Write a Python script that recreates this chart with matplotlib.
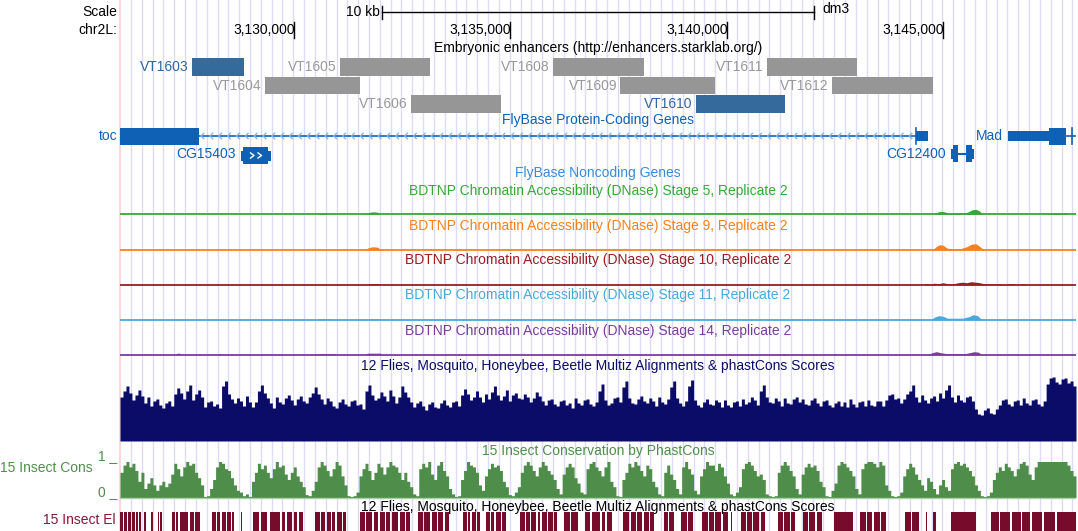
import numpy as np
import matplotlib.pyplot as plt
from matplotlib.collections import LineCollection

plt.rcParams['font.family'] = ['Liberation Sans', 'DejaVu Sans']

# dm3 window shown: chr2L:3,125,980-3,148,075
win_start = 3125980
win_end = 3148075
ruler_ticks = [3130000, 3135000, 3140000, 3145000]
ruler_labels = ['3,130,000', '3,135,000', '3,140,000', '3,145,000']
scale_bp = 10000

# Embryonic enhancers (Stark lab VT tiles)
enh_names = ['VT1603', 'VT1604', 'VT1605', 'VT1606', 'VT1608',
             'VT1609', 'VT1610', 'VT1611', 'VT1612']
enh_start = [3127640, 3129320, 3131065, 3132705, 3135987,
             3137535, 3139282, 3140923, 3142434]
enh_end = [3128840, 3131525, 3133145, 3134785, 3138097,
           3139730, 3141348, 3143007, 3144759]
enh_row = [0, 1, 0, 2, 0, 1, 2, 0, 1]
enh_active = [1, 0, 0, 0, 0, 0, 1, 0, 0]

# FlyBase protein-coding genes: blocks (start, end, kind)
toc_blocks = [(3125980, 3127799, 'cds'), (3144376, 3144653, 'utr')]
toc_intron = (3127799, 3144376)
cg15403_blocks = [(3128776, 3128834, 'utr'), (3128834, 3129412, 'cds'),
                  (3129412, 3129477, 'utr')]
cg12400_blocks = [(3145177, 3145230, 'utr'), (3145230, 3145348, 'cds'),
                  (3145531, 3145670, 'cds'), (3145670, 3145723, 'utr')]
cg12400_intron = (3145348, 3145531)
mad_blocks = [(3146495, 3147442, 'utr'), (3147442, 3147842, 'cds')]
mad_intron = (3147842, 3148075)
mad_tick = 3147988

# BDTNP DNase signal (position in kb, signal)
dnase_titles = ['BDTNP Chromatin Accessibility (DNase) Stage 5, Replicate 2',
                'BDTNP Chromatin Accessibility (DNase) Stage 9, Replicate 2',
                'BDTNP Chromatin Accessibility (DNase) Stage 10, Replicate 2',
                'BDTNP Chromatin Accessibility (DNase) Stage 11, Replicate 2',
                'BDTNP Chromatin Accessibility (DNase) Stage 14, Replicate 2']
dnase_colors = ['#37a837', '#f5821f', '#9c1c22', '#4aa9d9', '#7a3b9e']
st5_pos = [3125.98, 3130.54, 3130.60, 3130.72, 3130.78, 3131.66, 3131.74, 3131.84,
           3131.94, 3132.00, 3144.78, 3144.86, 3144.94, 3145.04, 3145.12, 3145.40,
           3145.56, 3145.68, 3145.76, 3145.84, 3145.92, 3147.40, 3147.45, 3147.85,
           3147.88, 3148.075]
st5_val = [0, 0, 1, 1, 0, 0, 2, 2.5, 2, 0, 0, 2, 3, 2.5, 1, 1,
           2, 4.5, 5, 3.5, 0, 0, 1, 1, 0, 0]
st9_pos = [3125.98, 3131.65, 3131.72, 3131.82, 3131.94, 3132.00, 3144.76, 3144.84,
           3144.92, 3145.00, 3145.10, 3145.20, 3145.40, 3145.55, 3145.66, 3145.76,
           3145.86, 3145.94, 3148.075]
st9_val = [0, 0, 2, 3, 2.5, 0, 0, 3, 5, 4.5, 1.5, 1, 1, 3, 5.5, 6, 3, 0, 0]
st10_pos = [3125.98, 3131.70, 3131.75, 3131.95, 3132.00, 3144.55, 3144.60, 3144.70,
            3144.80, 3144.90, 3145.00, 3145.10, 3145.20, 3145.35, 3145.45, 3145.55,
            3145.65, 3145.75, 3145.85, 3145.95, 3146.10, 3146.30, 3146.40, 3146.60,
            3146.70, 3146.85, 3146.90, 3148.075]
st10_val = [0, 0, 1, 1, 0, 0, 1, 0.5, 1.5, 1, 2, 1, 0.5, 2, 2.5, 2,
            3, 2.5, 2, 1, 0.5, 1, 0, 1, 0, 1, 0, 0]
st11_pos = [3125.98, 3130.52, 3130.56, 3130.86, 3130.90, 3131.70, 3131.75, 3131.95,
            3132.00, 3144.30, 3144.35, 3144.40, 3144.72, 3144.80, 3144.90, 3145.00,
            3145.10, 3145.45, 3145.60, 3145.70, 3145.80, 3145.90, 3148.075]
st11_val = [0, 0, 1, 1, 0, 0, 1, 1, 0, 0, 1, 0, 0, 2.5, 4, 3.5,
            1.5, 1.5, 3, 5, 4, 0, 0]
st14_pos = [3125.98, 3127.28, 3127.31, 3127.36, 3127.39, 3128.26, 3128.29, 3128.32,
            3130.53, 3130.58, 3130.94, 3130.99, 3131.64, 3131.70, 3132.00, 3132.06,
            3141.28, 3141.31, 3141.36, 3141.39, 3142.47, 3142.50, 3142.53, 3144.65,
            3144.75, 3144.85, 3144.95, 3145.09, 3145.50, 3145.62, 3145.72, 3145.82,
            3145.90, 3148.075]
st14_val = [0, 0, 1.5, 1.5, 0, 0, 1.5, 0, 0, 1, 1, 0, 0, 1.5, 1.5, 0,
            0, 1, 1, 0, 0, 1.5, 0, 0, 2, 3, 2, 1, 1, 2, 3, 2.5,
            0, 0]
dnase_pos = [st5_pos, st9_pos, st10_pos, st11_pos, st14_pos]
dnase_val = [st5_val, st9_val, st10_val, st11_val, st14_val]

# 12 Flies multiz summary (320 equal bins across the window)
multiz = [44, 50, 55, 48, 41, 46, 51, 45, 38, 44, 35, 40, 42, 36, 33, 38, 40, 35, 47, 53,
          48, 42, 50, 56, 41, 47, 51, 44, 34, 39, 40, 35, 37, 33, 55, 60, 47, 42, 38, 43,
          40, 35, 45, 39, 34, 39, 50, 56, 48, 43, 38, 33, 44, 39, 37, 43, 46, 41, 36, 42,
          45, 40, 38, 44, 48, 54, 47, 42, 37, 43, 40, 35, 33, 39, 42, 37, 35, 40, 41, 36,
          37, 32, 50, 56, 46, 41, 43, 49, 45, 40, 51, 45, 38, 44, 55, 49, 44, 39, 34, 38,
          40, 35, 31, 37, 39, 34, 33, 38, 41, 36, 34, 39, 40, 35, 46, 52, 47, 41, 44, 50,
          44, 39, 47, 42, 49, 55, 46, 41, 45, 51, 40, 46, 48, 43, 42, 47, 44, 39, 43, 49,
          45, 40, 36, 41, 42, 37, 35, 40, 41, 36, 38, 33, 43, 38, 36, 41, 42, 37, 35, 39,
          50, 57, 41, 36, 38, 43, 44, 39, 54, 60, 43, 38, 37, 42, 45, 40, 38, 43, 40, 35,
          44, 39, 37, 42, 54, 60, 43, 38, 35, 40, 55, 61, 41, 36, 34, 39, 42, 37, 36, 41,
          39, 34, 41, 36, 34, 39, 40, 35, 42, 37, 39, 44, 41, 36, 50, 56, 44, 39, 38, 43,
          40, 35, 43, 38, 37, 42, 44, 39, 42, 37, 36, 41, 43, 38, 35, 40, 41, 36, 34, 38,
          40, 35, 39, 34, 42, 37, 34, 39, 40, 35, 41, 36, 35, 40, 40, 35, 41, 46, 47, 42,
          43, 38, 42, 47, 50, 56, 44, 39, 46, 41, 38, 43, 45, 40, 48, 43, 51, 56, 44, 39,
          46, 41, 39, 44, 45, 40, 32, 27, 26, 31, 33, 28, 27, 32, 36, 41, 42, 37, 35, 40,
          41, 36, 43, 38, 36, 41, 42, 37, 35, 40, 57, 63, 64, 59, 57, 62, 63, 58, 60, 55]

# 15 insect phastCons (same bins, 0-1)
phastcons = [.70, .90, 1.0, .85, .95, .75, .45, .70, .25, .40, .55, .35, .20, .35, .45, .30, .40, .65, .95, .80,
             .60, .85, 1.0, .90, .95, .70, .55, .35, .03, .05, .25, .50, .85, 1.0, .95, .80, .75, .55, .35, .20,
             .15, .05, .10, .03, .45, .70, .95, .80, .90, .70, .55, .80, 1.0, .85, .90, .65, .50, .70, .85, .60,
             .45, .30, .08, .05, .20, .45, .85, 1.0, .90, .75, .60, .80, 1.0, .90, .60, .35, .05, .03, .05, .15,
             .60, .80, .95, .75, .50, .70, .95, .85, .65, .85, 1.0, .90, .85, .70, .50, .70, .45, .30, .10, .05,
             .80, .95, .85, 1.0, .65, .50, .90, 1.0, .75, .60, .25, .10, .03, .05, .50, .75, 1.0, .90, .85, .70,
             .35, .20, .60, .80, .95, .85, .90, .75, .45, .30, .08, .05, .15, .30, .70, .90, 1.0, .90, .75, .60,
             .85, 1.0, .90, .75, .65, .50, .25, .10, .65, .85, .95, .85, .55, .40, .15, .10, .80, .95, 1.0, .85,
             .75, .60, .85, 1.0, .45, .30, .05, .03, .50, .70, .95, .85, 1.0, .90, .75, .60, .90, .80, .45, .30,
             .10, .05, .70, .90, .65, .50, .25, .10, .85, 1.0, .80, .65, .20, .10, .60, .80, 1.0, .90, .90, .75,
             .95, .85, .60, .40, .10, .05, .15, .30, .80, .95, 1.0, .90, .75, .60, .65, .50, .10, .05, .03, .05,
             .70, .90, 1.0, .90, .75, .60, .25, .10, .65, .85, .95, .85, .90, .75, .45, .30, .05, .03, .20, .40,
             .90, 1.0, .95, .85, .75, .60, .25, .10, .80, .95, 1.0, 1.0, .95, .85, 1.0, .90, .35, .20, .05, .03,
             .05, .15, .60, .80, .95, .85, .65, .50, .35, .20, .55, .45, .25, .10, .35, .50, .30, .20, .80, .95,
             1.0, .90, .95, .85, .75, .60, .35, .20, .05, .03, .05, .15, .50, .70, .85, .75, .95, .85, .75, .60,
             .80, .95, 1.0, .90, .65, .50, .85, 1.0, 1.0, 1.0, 1.0, 1.0, 1.0, 1.0, 1.0, 1.0, 1.0, .90, .75, .60]

# 15 insect conserved elements (kb)
el_start = [3125.980, 3126.070, 3126.170, 3126.260, 3126.360, 3126.430, 3126.535, 3126.708,
            3126.858, 3126.915, 3127.182, 3127.280, 3127.360, 3127.470, 3127.600, 3127.720,
            3128.106, 3128.230, 3128.330, 3128.460, 3128.560, 3128.776, 3129.054, 3129.230,
            3129.447, 3129.550, 3129.720, 3129.830, 3129.990, 3130.110, 3130.486, 3130.630,
            3130.760, 3130.880, 3131.000, 3131.130, 3131.526, 3131.660, 3131.840, 3131.980,
            3132.130, 3132.260, 3132.440, 3132.590, 3132.867, 3133.010, 3133.190, 3133.330,
            3133.480, 3133.907, 3134.030, 3134.110, 3134.230, 3134.438, 3134.560, 3134.660,
            3134.810, 3135.224, 3135.360, 3135.490, 3135.630, 3135.730, 3135.880, 3136.010,
            3136.241, 3136.410, 3136.726, 3136.880, 3137.110, 3137.230, 3137.604, 3137.780,
            3137.940, 3138.080, 3138.230, 3138.552, 3138.670, 3138.945, 3139.110, 3139.430,
            3139.590, 3139.740, 3139.910, 3140.100, 3140.331, 3140.480, 3140.620, 3140.790,
            3141.186, 3141.330, 3141.490, 3141.764, 3141.910, 3142.080, 3142.481, 3143.081,
            3143.250, 3143.400, 3143.570, 3144.121, 3144.290, 3144.607, 3144.769, 3145.185,
            3146.109, 3146.330, 3146.590, 3146.830, 3147.050, 3147.330, 3147.630]
el_end = [3126.050, 3126.150, 3126.230, 3126.330, 3126.400, 3126.465, 3126.592, 3126.743,
          3126.890, 3126.951, 3127.260, 3127.320, 3127.450, 3127.550, 3127.700, 3127.829,
          3128.200, 3128.290, 3128.430, 3128.540, 3128.615, 3128.799, 3129.200, 3129.377,
          3129.530, 3129.680, 3129.800, 3129.950, 3130.080, 3130.209, 3130.600, 3130.720,
          3130.850, 3130.950, 3131.100, 3131.203, 3131.640, 3131.800, 3131.950, 3132.100,
          3132.220, 3132.400, 3132.560, 3132.682, 3132.980, 3133.144, 3133.300, 3133.450,
          3133.583, 3134.000, 3134.070, 3134.200, 3134.300, 3134.530, 3134.620, 3134.780,
          3134.900, 3135.330, 3135.450, 3135.600, 3135.690, 3135.850, 3135.980, 3136.079,
          3136.380, 3136.564, 3136.850, 3137.070, 3137.200, 3137.350, 3137.750, 3137.900,
          3138.050, 3138.200, 3138.321, 3138.640, 3138.785, 3139.080, 3139.223, 3139.560,
          3139.700, 3139.880, 3140.031, 3140.123, 3140.450, 3140.585, 3140.760, 3140.886,
          3141.300, 3141.460, 3141.579, 3141.880, 3142.050, 3142.203, 3142.920, 3143.220,
          3143.360, 3143.540, 3143.682, 3144.260, 3144.445, 3144.630, 3144.838, 3145.763,
          3146.300, 3146.550, 3146.800, 3147.010, 3147.300, 3147.600, 3148.075]

fig = plt.figure(figsize=(10.78, 5.31), dpi=100)
lab = fig.add_axes([0, 0, 1, 1])
lab.set_xlim(0, 1078)
lab.set_ylim(531, 0)
lab.axis('off')
ax = fig.add_axes([120 / 1078, 0, 956 / 1078, 1])
ax.set_xlim(win_start, win_end)
ax.set_ylim(531, 0)
ax.axis('off')
ax.patch.set_visible(False)

bp_px = (win_end - win_start) / 956.0
FS = 10

# guidelines (behind everything, in the pixel layer)
for g in np.arange(131, 1077, 10.82):
    lab.axvline(g, color='#dcdcfa', lw=1, zorder=0)
lab.axvline(119.5, color='#fbd0d0', lw=1.2, zorder=0)

# ruler
lab.text(117, 12, 'Scale', ha='right', va='center', fontsize=FS)
lab.text(117, 30, 'chr2L:', ha='right', va='center', fontsize=FS)
mid = (win_start + win_end) / 2
s0, s1 = mid - scale_bp / 2, mid + scale_bp / 2
ax.plot([s0, s1], [12, 12], color='black', lw=1)
ax.plot([s0, s0], [6, 19], color='black', lw=1)
ax.plot([s1, s1], [6, 19], color='black', lw=1)
ax.annotate('10 kb', xy=(s0, 12), xytext=(-2, 0), textcoords='offset pixels',
            ha='right', va='center', fontsize=FS)
ax.annotate('dm3', xy=(s1, 9), xytext=(8, 0), textcoords='offset pixels',
            ha='left', va='center', fontsize=FS)
for t, l in zip(ruler_ticks, ruler_labels):
    ax.plot([t, t], [22, 38], color='black', lw=1)
    ax.annotate(l, xy=(t, 30), xytext=(1, 0), textcoords='offset pixels',
                ha='right', va='center', fontsize=FS)


def title(y, s, color):
    lab.text(598, y, s, ha='center', va='center', fontsize=FS, color=color)


# enhancers
title(48, 'Embryonic enhancers (http://enhancers.starklab.org/)', 'black')
row_top = [58, 76.5, 95]
for n, s, e, r, a in zip(enh_names, enh_start, enh_end, enh_row, enh_active):
    box_c = '#346a9c' if a else '#969696'
    txt_c = '#2f65a1' if a else '#999999'
    ax.broken_barh([(s, e - s)], (row_top[r], 17.5), color=box_c, lw=0)
    ax.annotate(n, xy=(s, row_top[r] + 9), xytext=(-3, 0), textcoords='offset pixels',
                ha='right', va='center', fontsize=FS, color=txt_c)

# genes
gene_c = '#0f61b5'
title(120, 'FlyBase Protein-Coding Genes', gene_c)
heights = {'cds': 17, 'utr': 10}


def draw_blocks(blocks, yc):
    for s, e, k in blocks:
        h = heights[k]
        ax.broken_barh([(s, e - s)], (yc - h / 2, h), color=gene_c, lw=0)


def chevrons(x0, x1, yc, color, direction=-1, step=8.85, hw=1.6, hh=3.2):
    segs = []
    for x in np.arange(x0 + 4 * bp_px, x1 - 2 * bp_px, step * bp_px):
        tip = x + direction * hw * bp_px
        back = x - direction * hw * bp_px
        segs.append([(back, yc - hh), (tip, yc), (back, yc + hh)])
    ax.add_collection(LineCollection(segs, colors=color, lw=1))


draw_blocks(toc_blocks, 136)
ax.plot(toc_intron, [136, 136], color=gene_c, lw=1.2)
chevrons(toc_intron[0], toc_intron[1], 136, '#8ab8e6', direction=-1)
ax.plot([toc_intron[1], toc_intron[1]], [128, 144], color=gene_c, lw=1.2)
ax.annotate('toc', xy=(toc_blocks[0][0], 136), xytext=(-3, 0), textcoords='offset pixels',
            ha='right', va='center', fontsize=FS, color=gene_c)

draw_blocks(cg15403_blocks, 155.5)
cds = cg15403_blocks[1]
cmid = (cds[0] + cds[1]) / 2
chevrons(cmid - 8 * bp_px, cmid + 8 * bp_px, 155.5, 'white', direction=1, step=7.5, hw=2, hh=3)
ax.annotate('CG15403', xy=(cg15403_blocks[0][0], 154.5), xytext=(-5, 0),
            textcoords='offset pixels', ha='right', va='center', fontsize=FS, color=gene_c)

draw_blocks(cg12400_blocks, 153.5)
ax.plot(cg12400_intron, [153.5, 153.5], color=gene_c, lw=1.5)
ax.annotate('CG12400', xy=(cg12400_blocks[0][0], 153.5), xytext=(-5, 0),
            textcoords='offset pixels', ha='right', va='center', fontsize=FS, color=gene_c)

draw_blocks(mad_blocks, 136)
ax.plot(mad_intron, [136, 136], color=gene_c, lw=1.2)
ax.plot([mad_tick, mad_tick], [128, 144], color=gene_c, lw=1.2)
ax.annotate('Mad', xy=(mad_blocks[0][0], 136), xytext=(-5, 0), textcoords='offset pixels',
            ha='right', va='center', fontsize=FS, color=gene_c)

title(173, 'FlyBase Noncoding Genes', '#3a8ad8')

# DNase tracks
title_y = [191, 225.7, 260.3, 295.3, 330.7]
base_y = [214.3, 249.7, 284.7, 319.7, 354.7]
for t, ty, by, c, p, v in zip(dnase_titles, title_y, base_y, dnase_colors, dnase_pos, dnase_val):
    title(ty, t, c)
    x = np.array(p) * 1000
    y = np.array(v, dtype=float)
    ax.fill_between(x, by, by - y, color=c, lw=0)
    ax.plot([win_start, win_end], [by, by], color=c, lw=1.3)

# multiz
navy = '#0b0c68'
title(366, '12 Flies, Mosquito, Honeybee, Beetle Multiz Alignments & phastCons Scores', navy)
nb = len(multiz)
edges = np.linspace(win_start, win_end, nb + 1)
mz = np.append(multiz, multiz[-1]).astype(float)
ax.fill_between(edges, 441, 441 - mz, step='post', color=navy, lw=0)

# phastCons
pc = '#4f8d4a'
title(451, '15 Insect Conservation by PhastCons', pc)
lab.text(0, 468, '15 Insect Cons', ha='left', va='center', fontsize=FS, color=pc)
lab.text(117, 460, '1 _', ha='right', va='baseline', fontsize=FS, color=pc)
lab.text(117, 496, '0 _', ha='right', va='baseline', fontsize=FS, color=pc)
ax.plot([win_start, win_end], [497.5, 497.5], color='#a9cfa6', lw=1)
pcv = np.append(phastcons, phastcons[-1]) * 36
ax.fill_between(edges, 497.5, 497.5 - pcv, step='post', color=pc, lw=0)

# conserved elements
title(507, '12 Flies, Mosquito, Honeybee, Beetle Multiz Alignments & phastCons Scores', 'black')
el_c = '#760b2c'
lab.text(116, 520, '15 Insect El', ha='right', va='center', fontsize=FS, color='#8b1538')
ax.broken_barh([(s * 1000, (e - s) * 1000) for s, e in zip(el_start, el_end)],
               (512, 19), color=el_c, lw=0)

fig.savefig('out.png', dpi=100)
